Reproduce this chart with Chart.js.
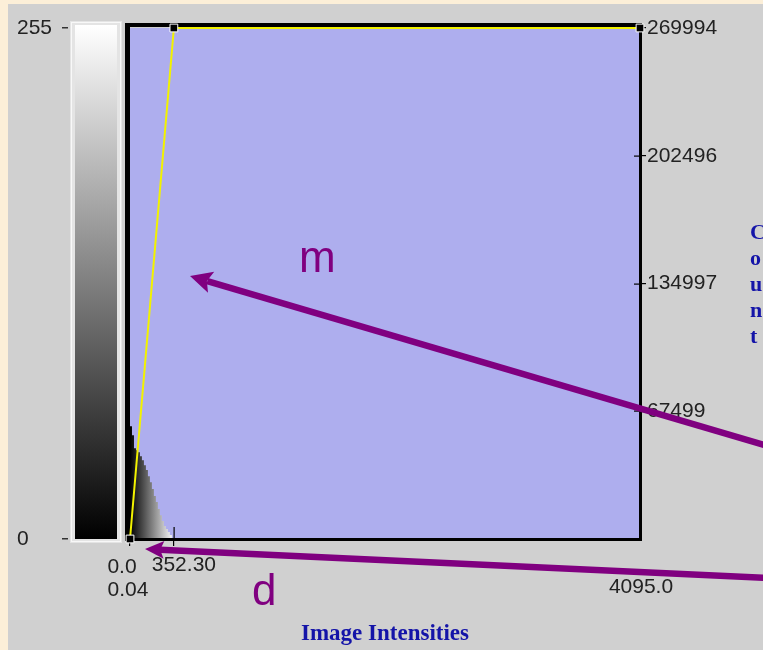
<!DOCTYPE html>
<html>
<head>
<meta charset="utf-8">
<script src="https://cdn.jsdelivr.net/npm/chart.js@4/dist/chart.umd.min.js"></script>
<style>
  html, body { margin: 0; padding: 0; background: #d0d0d0; }
  #wrap { width: 763px; height: 650px; position: relative; }
</style>
</head>
<body>
<div id="wrap"><canvas id="histo" width="763" height="650"></canvas></div>
<script>
// Intensity histogram: bin start intensity and pixel count per bin
const binStarts = [0, 16, 32, 48, 64, 80, 96, 112, 128, 144, 160, 176, 192, 208, 224, 240, 256, 272, 288, 304, 320, 336, 352];
const binCounts = [52700, 59600, 54800, 48000, 46900, 45900, 43700, 41600, 39000, 36400, 33200, 30000, 26400, 22700, 19500, 15800, 12600, 9500, 6900, 5300, 3700, 2100, 0];

// Display LUT (intensity -> gray level) control points
const lutIntensity = [0.04, 352.30, 4095.0];
const lutGray = [0, 255, 255];

// Axis ranges and tick values
const intensityRange = [0, 4095];
const grayRange = [0, 255];
const countRange = [0, 269994];
const intensityTicks = [0, 352.30, 4095];
const grayTicks = [0, 255];
const countTicks = [67499, 134997, 202496, 269994];

// Intensity tick labels: [first row, second row]
const intensityLabels = [["0.0", "0.04"], ["352.30", ""], ["", "4095.0"]];

const LABEL_FONT = '21px "Liberation Sans", Arial, sans-serif';
const LABEL_COLOR = '#222222';
const TITLE_COLOR = '#1414a8';
const NOTE_COLOR = '#800080';

function histGradient(ctx) {
  const chart = ctx.chart;
  if (!chart.chartArea) return '#000';
  const xs = chart.scales.x;
  const g = chart.ctx.createLinearGradient(xs.getPixelForValue(lutIntensity[0]), 0, xs.getPixelForValue(lutIntensity[1]), 0);
  g.addColorStop(0, '#000000');
  g.addColorStop(1, '#ffffff');
  return g;
}

function drawArrow(c, x1, y1, x2, y2, lw, headLen, headHalf) {
  const ang = Math.atan2(y2 - y1, x2 - x1);
  const bx = x2 - Math.cos(ang) * headLen, by = y2 - Math.sin(ang) * headLen;
  c.save();
  c.strokeStyle = NOTE_COLOR;
  c.fillStyle = NOTE_COLOR;
  c.lineWidth = lw;
  c.beginPath();
  c.moveTo(x1, y1);
  c.lineTo(bx + Math.cos(ang) * 4, by + Math.sin(ang) * 4);
  c.stroke();
  c.beginPath();
  c.moveTo(x2, y2);
  c.lineTo(bx + Math.sin(ang) * headHalf, by - Math.cos(ang) * headHalf);
  c.lineTo(bx + Math.cos(ang) * headLen * 0.2, by + Math.sin(ang) * headLen * 0.2);
  c.lineTo(bx - Math.sin(ang) * headHalf, by + Math.cos(ang) * headHalf);
  c.closePath();
  c.fill();
  c.restore();
}

// Panel background, gray-level colour bar and plot fill
const backdrop = {
  id: 'backdrop',
  beforeDraw(chart) {
    const c = chart.ctx, a = chart.chartArea, W = chart.width, H = chart.height;
    c.save();
    c.fillStyle = '#fcefd8';
    c.fillRect(0, 0, W, H);
    c.fillStyle = '#d0d0d0';
    c.fillRect(8, 4, W - 8, H - 4);

    // colour bar beside the gray-level axis
    const yg = chart.scales.yGray;
    const yTop = yg.getPixelForValue(grayRange[1]) - 3;
    const yBot = yg.getPixelForValue(grayRange[0]);
    c.fillStyle = '#e4e4e4';
    c.fillRect(70, yTop - 4, 52, yBot - yTop + 8);
    c.strokeStyle = '#f8f8f8';
    c.lineWidth = 1;
    c.strokeRect(71.5, yTop - 2.5, 49, yBot - yTop + 5);
    const g = c.createLinearGradient(0, yTop, 0, yBot);
    g.addColorStop(0, '#ffffff');
    g.addColorStop(1, '#000000');
    c.fillStyle = g;
    c.fillRect(75, yTop, 42, yBot - yTop);
    c.fillStyle = '#333';
    grayTicks.forEach(v => {
      c.fillRect(62, Math.round(yg.getPixelForValue(v)) - 1, 6, 1.5);
    });

    // plot area
    c.fillStyle = '#aeaeee';
    c.fillRect(a.left, a.top, a.right - a.left, a.bottom - a.top);
    c.restore();
  },
  afterDatasetDraw(chart, args) {
    if (args.index !== 1) return;
    const c = chart.ctx, a = chart.chartArea;
    c.save();
    c.fillStyle = '#000';
    c.fillRect(a.left - 5, a.top - 5, 5, a.bottom - a.top + 7);
    c.fillRect(a.left - 5, a.top - 5, a.right - a.left + 7, 4);
    c.fillRect(a.right - 1, a.top - 1, 3, a.bottom - a.top + 3);
    c.fillRect(a.left, a.bottom - 1, a.right - a.left + 2, 3);
    // inner halves of the crossing tick marks
    const xs = chart.scales.x, yc = chart.scales.yCount;
    c.fillRect(Math.round(xs.getPixelForValue(intensityTicks[1])) - 0.5, a.bottom - 12, 1.2, 12);
    countTicks.forEach(v => {
      c.fillRect(a.right - 6, Math.round(yc.getPixelForValue(v)) - 0.5, 6, 1.2);
    });
    c.restore();
  },
  afterDraw(chart) {
    const c = chart.ctx, a = chart.chartArea, W = chart.width;
    const xs = chart.scales.x, yc = chart.scales.yCount;
    c.save();
    // intensity tick labels (two rows)
    c.font = LABEL_FONT;
    c.fillStyle = LABEL_COLOR;
    c.textAlign = 'center';
    c.textBaseline = 'middle';
    const shifts = [[-8, -2], [10, 0], [0, 1]];
    const rows = [a.bottom + 28, a.bottom + 51];
    intensityTicks.forEach((v, i) => {
      const px = xs.getPixelForValue(v);
      intensityLabels[i].forEach((t, r) => {
        if (t) c.fillText(t, px + shifts[i][r], rows[r] - (i === 1 ? 2 : 0) - (i === 2 ? 3 : 0));
      });
    });

    // stacked "Count" title on the count axis
    c.font = 'bold 22px "Liberation Serif", "Times New Roman", serif';
    c.fillStyle = TITLE_COLOR;
    c.textAlign = 'left';
    c.textBaseline = 'alphabetic';
    const letters = ['C', 'o', 'u', 'n', 't'];
    const mid = (a.top + a.bottom) / 2;
    letters.forEach((ch, i) => {
      c.fillText(ch, yc.right - 13, mid + 7 + (i - 2) * 26);
    });

    // notes
    drawArrow(c, W + 8, a.top + 419, a.left + 60, a.top + 248, 6.5, 22, 11);
    drawArrow(c, W + 8, a.bottom + 39, a.left + 15, a.bottom + 10, 6.5, 19, 9);
    c.font = '44px "Liberation Sans", Arial, sans-serif';
    c.fillStyle = NOTE_COLOR;
    c.fillText('m', a.left + 169, a.top + 244);
    c.fillText('d', a.left + 122, a.bottom + 66);
    c.restore();
  }
};

new Chart(document.getElementById('histo'), {
  type: 'line',
  data: {
    datasets: [
      {
        label: 'LUT',
        data: lutIntensity.map((x, i) => ({ x, y: lutGray[i] })),
        yAxisID: 'yGray',
        borderColor: '#f2f200',
        borderWidth: 2,
        tension: 0,
        pointStyle: 'rect',
        pointRadius: 5.5,
        pointBackgroundColor: '#000',
        pointBorderColor: '#fff',
        pointBorderWidth: 1,
        clip: false
      },
      {
        label: 'Count',
        data: binStarts.map((x, i) => ({ x, y: binCounts[i] })),
        yAxisID: 'yCount',
        stepped: 'after',
        fill: 'origin',
        borderColor: 'rgba(0,0,0,0)',
        borderWidth: 0,
        pointRadius: 0,
        backgroundColor: histGradient
      }
    ]
  },
  options: {
    responsive: false,
    animation: false,
    devicePixelRatio: 1,
    layout: { padding: { left: 17, top: 28, right: 0, bottom: 0 } },
    plugins: { legend: { display: false }, tooltip: { enabled: false } },
    scales: {
      x: {
        type: 'linear',
        position: 'bottom',
        min: intensityRange[0],
        max: intensityRange[1],
        afterBuildTicks: s => { s.ticks = intensityTicks.map(v => ({ value: v })); },
        ticks: { display: false },
        grid: {
          display: true,
          drawOnChartArea: false,
          drawTicks: true,
          tickLength: 7,
          lineWidth: 1.2,
          color: ctx => (ctx.tick && ctx.tick.value === intensityRange[1]) ? 'rgba(0,0,0,0)' : '#000'
        },
        border: { display: false },
        title: {
          display: true,
          text: 'Image Intensities',
          color: TITLE_COLOR,
          font: { family: '"Liberation Serif", "Times New Roman", serif', weight: 'bold', size: 23 },
          padding: { top: 0, bottom: 2 }
        },
        afterFit: s => { s.height = 111; }
      },
      yGray: {
        type: 'linear',
        position: 'left',
        min: grayRange[0],
        max: grayRange[1],
        afterBuildTicks: s => { s.ticks = grayTicks.map(v => ({ value: v })); },
        ticks: {
          crossAlign: 'far',
          color: LABEL_COLOR,
          font: { family: '"Liberation Sans", Arial, sans-serif', size: 21 },
          callback: v => String(v)
        },
        grid: { display: false },
        border: { display: false },
        afterFit: s => { s.width = 113; }
      },
      yCount: {
        type: 'linear',
        position: 'right',
        min: countRange[0],
        max: countRange[1],
        afterBuildTicks: s => { s.ticks = countTicks.map(v => ({ value: v })); },
        ticks: {
          padding: 1,
          color: LABEL_COLOR,
          font: { family: '"Liberation Sans", Arial, sans-serif', size: 21 },
          callback: v => String(v)
        },
        grid: {
          display: true,
          drawOnChartArea: false,
          drawTicks: true,
          tickLength: 6,
          lineWidth: 1.2,
          color: '#000'
        },
        border: { display: false },
        afterFit: s => { s.width = 123; }
      }
    }
  },
  plugins: [backdrop]
});
</script>
</body>
</html>
